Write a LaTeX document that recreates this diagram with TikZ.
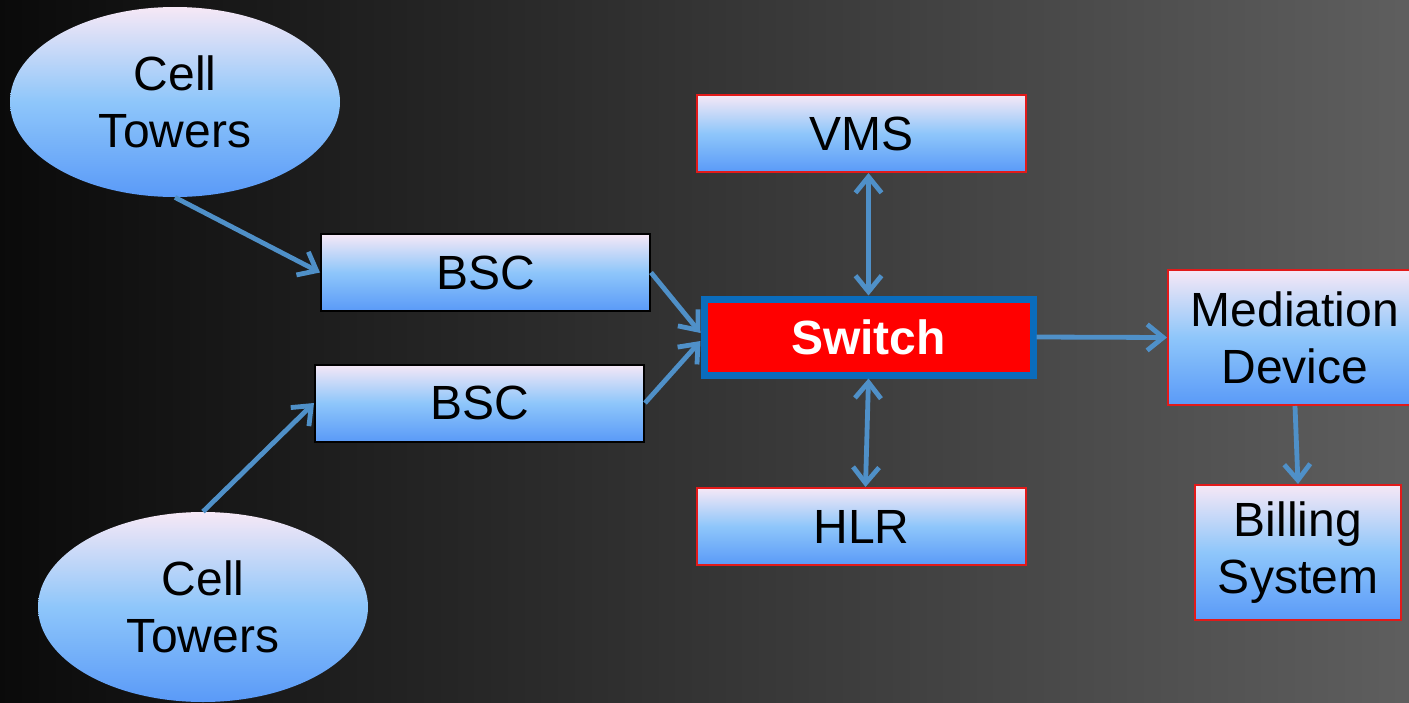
\documentclass[tikz,border=0pt]{standalone}
\usepackage{fontspec}
\setmainfont{Liberation Sans}
\usetikzlibrary{shapes.geometric,arrows.meta}
\definecolor{linkblue}{HTML}{4F90C8}
\definecolor{gradtop}{HTML}{F6E8F6}
\definecolor{gradmid}{HTML}{8EC6FA}
\definecolor{gradbot}{HTML}{5A9AF8}
\definecolor{boxred}{HTML}{E21A1A}
\definecolor{switchblue}{HTML}{0A6CBC}
\begin{document}
\begin{tikzpicture}[x=0.5pt,y=-0.5pt,
  every node/.style={font=\fontsize{24}{28.5}\selectfont, align=center, inner sep=0pt},
  grad/.style={top color=gradtop, bottom color=gradbot, middle color=gradmid},
  tower/.style={ellipse, grad, minimum width=165pt, minimum height=95pt},
  bscbox/.style={rectangle, grad, draw=black, line width=1pt, minimum width=164.5pt, minimum height=38.5pt},
  redbox/.style={rectangle, grad, draw=boxred, line width=1pt},
  barb/.style={Straight Barb[length=8pt,width=13pt,line width=2.4pt]},
  link/.style={draw=linkblue, line width=2.4pt, -{Straight Barb[length=8pt,width=13pt,line width=2.4pt]}},
  dlink/.style={draw=linkblue, line width=2.4pt, {Straight Barb[length=8pt,width=13pt,line width=2.4pt]}-{Straight Barb[length=8pt,width=13pt,line width=2.4pt]}}
]
% backdrop
\shade[left color=black!96, right color=black!63] (0,0) rectangle (1409,702);
\useasboundingbox (0,0) rectangle (1409,702);

% nodes
\node[tower] (ct1) at (175,102) {Cell\\Towers};
\node[tower] (ct2) at (203,607) {Cell\\Towers};
\node[bscbox] (bsc1) at (485.5,272.5) {BSC};
\node[bscbox] (bsc2) at (479.5,403) {BSC};
\node[rectangle, fill=red, draw=switchblue, line width=3.5pt, minimum width=164.5pt, minimum height=38pt,
      text=white, font=\fontsize{24}{28.5}\selectfont\bfseries] (sw) at (868.5,337) {Switch};
\node[redbox, minimum width=164.5pt, minimum height=38.5pt] (vms) at (861.5,133.5) {VMS};
\node[redbox, minimum width=164.5pt, minimum height=38.5pt] (hlr) at (861.5,526.5) {HLR};
\node[redbox, minimum width=127pt, minimum height=67.5pt] (med) at (1295,337.5) {Mediation\\Device};
\node[redbox, minimum width=103pt, minimum height=67.5pt] (bill) at (1298,552.5) {Billing\\System};

% connectors
\draw[link] (ct1.south) -- (bsc1.west);
\draw[link] (ct2.north) -- (bsc2.west);
\draw[link] (bsc1.east) -- ([yshift=2pt]sw.west);
\draw[link] (bsc2.east) -- ([yshift=-2pt]sw.west);
\draw[dlink] ([xshift=3.5pt]vms.south) -- (sw.north);
\draw[dlink] (sw.south) -- ([xshift=2pt]hlr.north);
\draw[link] (sw.east) -- (med.west);
\draw[link] (med.south) -- (bill.north);
\end{tikzpicture}
\end{document}
